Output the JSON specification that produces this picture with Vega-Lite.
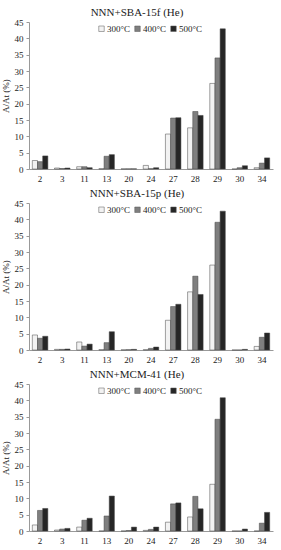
{
  "$schema": "https://vega.github.io/schema/vega-lite/v6.json",
  "padding": {"left": 1, "top": 7, "right": 9, "bottom": 2},
  "background": "white",
  "spacing": 5,
  "config": {
    "font": "Liberation Serif",
    "view": {"stroke": null},
    "axis": {"labelFont": "Liberation Serif", "titleFont": "Liberation Serif", "labelFontSize": 9, "titleFontSize": 9, "titleFontWeight": "normal", "labelColor": "#222", "titleColor": "#222", "domainColor": "#999", "tickColor": "#999", "grid": false},
    "legend": {"labelFont": "Liberation Serif", "labelFontSize": 9, "labelColor": "#222"},
    "title": {"font": "Liberation Serif", "fontSize": 11, "fontWeight": "normal", "color": "#222", "frame": "bounds", "anchor": "middle"}
  },
  "data": {"values": [
    {"panel": "A", "peak": "2", "temp": "300°C", "value": 2.6},
    {"panel": "A", "peak": "2", "temp": "400°C", "value": 2.25},
    {"panel": "A", "peak": "2", "temp": "500°C", "value": 4.0},
    {"panel": "A", "peak": "3", "temp": "300°C", "value": 0.3},
    {"panel": "A", "peak": "3", "temp": "400°C", "value": 0.15},
    {"panel": "A", "peak": "3", "temp": "500°C", "value": 0.3},
    {"panel": "A", "peak": "11", "temp": "300°C", "value": 0.7},
    {"panel": "A", "peak": "11", "temp": "400°C", "value": 0.7},
    {"panel": "A", "peak": "11", "temp": "500°C", "value": 0.4},
    {"panel": "A", "peak": "13", "temp": "300°C", "value": 0.1},
    {"panel": "A", "peak": "13", "temp": "400°C", "value": 3.9},
    {"panel": "A", "peak": "13", "temp": "500°C", "value": 4.4},
    {"panel": "A", "peak": "20", "temp": "300°C", "value": 0.05},
    {"panel": "A", "peak": "20", "temp": "400°C", "value": 0.05},
    {"panel": "A", "peak": "20", "temp": "500°C", "value": 0.05},
    {"panel": "A", "peak": "24", "temp": "300°C", "value": 1.1},
    {"panel": "A", "peak": "24", "temp": "400°C", "value": 0.1},
    {"panel": "A", "peak": "24", "temp": "500°C", "value": 0.4},
    {"panel": "A", "peak": "27", "temp": "300°C", "value": 10.7},
    {"panel": "A", "peak": "27", "temp": "400°C", "value": 15.6},
    {"panel": "A", "peak": "27", "temp": "500°C", "value": 15.7},
    {"panel": "A", "peak": "28", "temp": "300°C", "value": 12.6},
    {"panel": "A", "peak": "28", "temp": "400°C", "value": 17.6},
    {"panel": "A", "peak": "28", "temp": "500°C", "value": 16.4},
    {"panel": "A", "peak": "29", "temp": "300°C", "value": 26.2},
    {"panel": "A", "peak": "29", "temp": "400°C", "value": 34.0},
    {"panel": "A", "peak": "29", "temp": "500°C", "value": 42.9},
    {"panel": "A", "peak": "30", "temp": "300°C", "value": 0.0},
    {"panel": "A", "peak": "30", "temp": "400°C", "value": 0.4},
    {"panel": "A", "peak": "30", "temp": "500°C", "value": 1.0},
    {"panel": "A", "peak": "34", "temp": "300°C", "value": 0.4},
    {"panel": "A", "peak": "34", "temp": "400°C", "value": 1.8},
    {"panel": "A", "peak": "34", "temp": "500°C", "value": 3.4},

    {"panel": "B", "peak": "2", "temp": "300°C", "value": 4.6},
    {"panel": "B", "peak": "2", "temp": "400°C", "value": 3.6},
    {"panel": "B", "peak": "2", "temp": "500°C", "value": 4.2},
    {"panel": "B", "peak": "3", "temp": "300°C", "value": 0.2},
    {"panel": "B", "peak": "3", "temp": "400°C", "value": 0.2},
    {"panel": "B", "peak": "3", "temp": "500°C", "value": 0.3},
    {"panel": "B", "peak": "11", "temp": "300°C", "value": 2.45},
    {"panel": "B", "peak": "11", "temp": "400°C", "value": 1.2},
    {"panel": "B", "peak": "11", "temp": "500°C", "value": 1.8},
    {"panel": "B", "peak": "13", "temp": "300°C", "value": 0.1},
    {"panel": "B", "peak": "13", "temp": "400°C", "value": 2.25},
    {"panel": "B", "peak": "13", "temp": "500°C", "value": 5.6},
    {"panel": "B", "peak": "20", "temp": "300°C", "value": 0.05},
    {"panel": "B", "peak": "20", "temp": "400°C", "value": 0.1},
    {"panel": "B", "peak": "20", "temp": "500°C", "value": 0.2},
    {"panel": "B", "peak": "24", "temp": "300°C", "value": 0.1},
    {"panel": "B", "peak": "24", "temp": "400°C", "value": 0.5},
    {"panel": "B", "peak": "24", "temp": "500°C", "value": 0.9},
    {"panel": "B", "peak": "27", "temp": "300°C", "value": 9.1},
    {"panel": "B", "peak": "27", "temp": "400°C", "value": 13.3},
    {"panel": "B", "peak": "27", "temp": "500°C", "value": 14.0},
    {"panel": "B", "peak": "28", "temp": "300°C", "value": 17.8},
    {"panel": "B", "peak": "28", "temp": "400°C", "value": 22.6},
    {"panel": "B", "peak": "28", "temp": "500°C", "value": 17.0},
    {"panel": "B", "peak": "29", "temp": "300°C", "value": 26.0},
    {"panel": "B", "peak": "29", "temp": "400°C", "value": 39.1},
    {"panel": "B", "peak": "29", "temp": "500°C", "value": 42.5},
    {"panel": "B", "peak": "30", "temp": "300°C", "value": 0.0},
    {"panel": "B", "peak": "30", "temp": "400°C", "value": 0.0},
    {"panel": "B", "peak": "30", "temp": "500°C", "value": 0.2},
    {"panel": "B", "peak": "34", "temp": "300°C", "value": 1.1},
    {"panel": "B", "peak": "34", "temp": "400°C", "value": 3.9},
    {"panel": "B", "peak": "34", "temp": "500°C", "value": 5.2},

    {"panel": "C", "peak": "2", "temp": "300°C", "value": 1.85},
    {"panel": "C", "peak": "2", "temp": "400°C", "value": 6.3},
    {"panel": "C", "peak": "2", "temp": "500°C", "value": 6.9},
    {"panel": "C", "peak": "3", "temp": "300°C", "value": 0.3},
    {"panel": "C", "peak": "3", "temp": "400°C", "value": 0.6},
    {"panel": "C", "peak": "3", "temp": "500°C", "value": 0.8},
    {"panel": "C", "peak": "11", "temp": "300°C", "value": 1.2},
    {"panel": "C", "peak": "11", "temp": "400°C", "value": 3.3},
    {"panel": "C", "peak": "11", "temp": "500°C", "value": 3.9},
    {"panel": "C", "peak": "13", "temp": "300°C", "value": 0.0},
    {"panel": "C", "peak": "13", "temp": "400°C", "value": 4.6},
    {"panel": "C", "peak": "13", "temp": "500°C", "value": 10.7},
    {"panel": "C", "peak": "20", "temp": "300°C", "value": 0.0},
    {"panel": "C", "peak": "20", "temp": "400°C", "value": 0.15},
    {"panel": "C", "peak": "20", "temp": "500°C", "value": 1.2},
    {"panel": "C", "peak": "24", "temp": "300°C", "value": 0.2},
    {"panel": "C", "peak": "24", "temp": "400°C", "value": 0.5},
    {"panel": "C", "peak": "24", "temp": "500°C", "value": 1.2},
    {"panel": "C", "peak": "27", "temp": "300°C", "value": 2.7},
    {"panel": "C", "peak": "27", "temp": "400°C", "value": 8.3},
    {"panel": "C", "peak": "27", "temp": "500°C", "value": 8.6},
    {"panel": "C", "peak": "28", "temp": "300°C", "value": 4.3},
    {"panel": "C", "peak": "28", "temp": "400°C", "value": 10.6},
    {"panel": "C", "peak": "28", "temp": "500°C", "value": 6.8},
    {"panel": "C", "peak": "29", "temp": "300°C", "value": 14.3},
    {"panel": "C", "peak": "29", "temp": "400°C", "value": 34.2},
    {"panel": "C", "peak": "29", "temp": "500°C", "value": 40.8},
    {"panel": "C", "peak": "30", "temp": "300°C", "value": 0.0},
    {"panel": "C", "peak": "30", "temp": "400°C", "value": 0.0},
    {"panel": "C", "peak": "30", "temp": "500°C", "value": 0.6},
    {"panel": "C", "peak": "34", "temp": "300°C", "value": 0.0},
    {"panel": "C", "peak": "34", "temp": "400°C", "value": 2.4},
    {"panel": "C", "peak": "34", "temp": "500°C", "value": 5.7}
  ]},
  "resolve": {"legend": {"color": "independent"}},
  "vconcat": [
    {
      "title": {"text": "NNN+SBA-15f (He)", "offset": 0},
      "width": 244, "height": 147,
      "transform": [{"filter": "datum.panel == 'A'"}],
      "mark": {"type": "bar", "stroke": "#444", "strokeWidth": 0.5},
      "encoding": {
        "x": {"field": "peak", "type": "ordinal", "sort": ["2","3","11","13","20","24","27","28","29","30","34"], "scale": {"paddingInner": 0.3, "paddingOuter": 0.15}, "axis": {"title": null, "labelAngle": 0, "ticks": false, "labelPadding": 5}},
        "xOffset": {"field": "temp", "type": "nominal", "sort": ["300°C","400°C","500°C"]},
        "y": {"field": "value", "type": "quantitative", "scale": {"domain": [0, 45], "nice": false}, "axis": {"title": "A/At (%)", "values": [0,5,10,15,20,25,30,35,40,45], "tickSize": 3, "labelPadding": 3, "titlePadding": 4}},
        "color": {"field": "temp", "type": "nominal", "sort": ["300°C","400°C","500°C"], "scale": {"domain": ["300°C","400°C","500°C"], "range": ["#f2f2f2","#7f7f7f","#262626"]}, "legend": {"title": null, "orient": "none", "direction": "horizontal", "legendX": 68, "legendY": 2, "symbolType": "square", "symbolSize": 30, "symbolStrokeColor": "#555", "symbolStrokeWidth": 0.5, "columnPadding": 2, "labelOffset": 1}}
      }
    },
    {
      "title": {"text": "NNN+SBA-15p (He)", "offset": 0},
      "width": 244, "height": 147,
      "transform": [{"filter": "datum.panel == 'B'"}],
      "mark": {"type": "bar", "stroke": "#444", "strokeWidth": 0.5},
      "encoding": {
        "x": {"field": "peak", "type": "ordinal", "sort": ["2","3","11","13","20","24","27","28","29","30","34"], "scale": {"paddingInner": 0.3, "paddingOuter": 0.15}, "axis": {"title": null, "labelAngle": 0, "ticks": false, "labelPadding": 5}},
        "xOffset": {"field": "temp", "type": "nominal", "sort": ["300°C","400°C","500°C"]},
        "y": {"field": "value", "type": "quantitative", "scale": {"domain": [0, 45], "nice": false}, "axis": {"title": "A/At (%)", "values": [0,5,10,15,20,25,30,35,40,45], "tickSize": 3, "labelPadding": 3, "titlePadding": 4}},
        "color": {"field": "temp", "type": "nominal", "sort": ["300°C","400°C","500°C"], "scale": {"domain": ["300°C","400°C","500°C"], "range": ["#f2f2f2","#7f7f7f","#262626"]}, "legend": {"title": null, "orient": "none", "direction": "horizontal", "legendX": 68, "legendY": 2, "symbolType": "square", "symbolSize": 30, "symbolStrokeColor": "#555", "symbolStrokeWidth": 0.5, "columnPadding": 2, "labelOffset": 1}}
      }
    },
    {
      "title": {"text": "NNN+MCM-41 (He)", "offset": 0},
      "width": 244, "height": 147,
      "transform": [{"filter": "datum.panel == 'C'"}],
      "mark": {"type": "bar", "stroke": "#444", "strokeWidth": 0.5},
      "encoding": {
        "x": {"field": "peak", "type": "ordinal", "sort": ["2","3","11","13","20","24","27","28","29","30","34"], "scale": {"paddingInner": 0.3, "paddingOuter": 0.15}, "axis": {"title": null, "labelAngle": 0, "ticks": false, "labelPadding": 5}},
        "xOffset": {"field": "temp", "type": "nominal", "sort": ["300°C","400°C","500°C"]},
        "y": {"field": "value", "type": "quantitative", "scale": {"domain": [0, 45], "nice": false}, "axis": {"title": "A/At (%)", "values": [0,5,10,15,20,25,30,35,40,45], "tickSize": 3, "labelPadding": 3, "titlePadding": 4}},
        "color": {"field": "temp", "type": "nominal", "sort": ["300°C","400°C","500°C"], "scale": {"domain": ["300°C","400°C","500°C"], "range": ["#f2f2f2","#7f7f7f","#262626"]}, "legend": {"title": null, "orient": "none", "direction": "horizontal", "legendX": 68, "legendY": 2, "symbolType": "square", "symbolSize": 30, "symbolStrokeColor": "#555", "symbolStrokeWidth": 0.5, "columnPadding": 2, "labelOffset": 1}}
      }
    }
  ]
}
